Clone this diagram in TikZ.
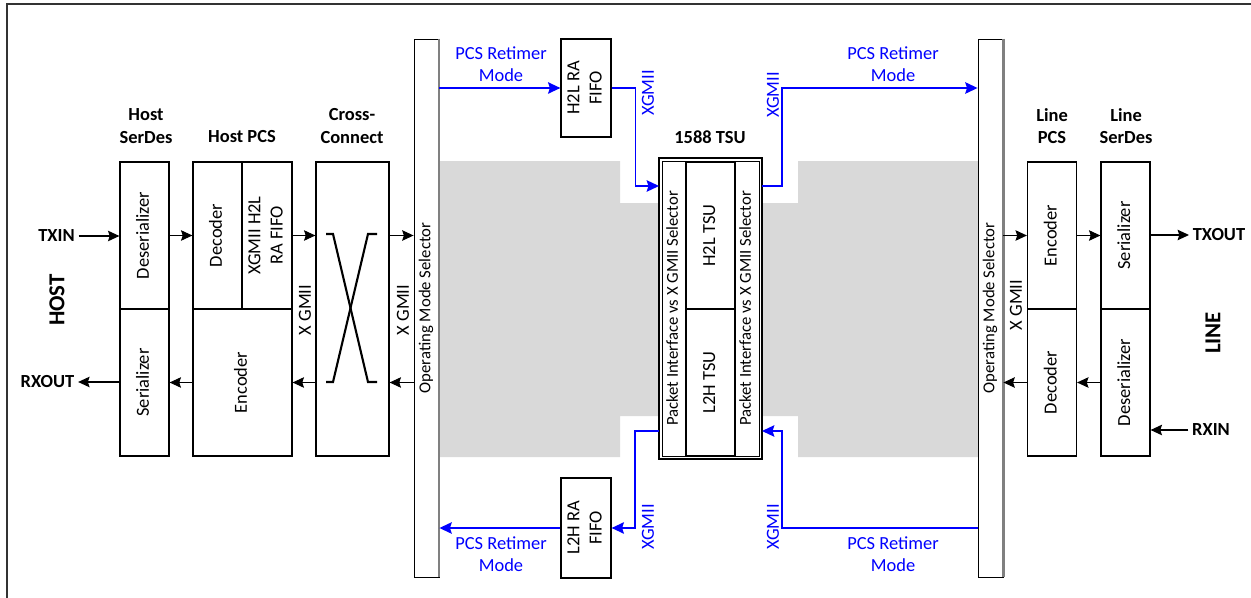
\documentclass[tikz,border=0pt]{standalone}
\usepackage{fontspec}
\setmainfont{Carlito}
\usepackage{graphicx}
\usetikzlibrary{arrows.meta, calc}
\definecolor{bggray}{RGB}{217,217,217}
\definecolor{xblue}{RGB}{0,0,255}
\tikzstyle{arrow} = [line width=0.6pt, -{Stealth[length=6.5pt,width=6pt,inset=1pt]}]
\newcommand{\vtext}[1]{\rotatebox{90}{\begin{tabular}{@{}c@{}}#1\end{tabular}}}

\begin{document}
\begin{tikzpicture}[
  x=0.02cm, y=-0.02cm,
  every node/.style={font=\fontsize{10.5}{12.8}\selectfont},
  block/.style={draw=black, fill=white, line width=0.7pt, inner sep=0pt},
  half/.style={block, minimum width=0.98cm, minimum height=2.94cm},
  sel/.style={draw=black, fill=white, line width=0.5pt, inner sep=0pt, font=\fontsize{9.5}{11}\selectfont},
  title/.style={font=\fontsize{10.5}{12.8}\selectfont\bfseries, align=center},
  side/.style={font=\fontsize{13}{15}\selectfont\bfseries, rotate=90},
  pin/.style={font=\fontsize{10.5}{12.8}\selectfont\bfseries, inner sep=2pt},
  barrow/.style={xblue, line width=1pt, -{Stealth[length=7pt,width=6.5pt,inset=1pt]}},
  bluetxt/.style={text=xblue, align=center}
]
\useasboundingbox (0,0) rectangle (1251,598);

% frame and shaded area
\draw[line width=0.6pt, black!80] (1251,4) -- (7,4) -- (7,598);
\fill[bggray] (439,161) -- (620,161) -- (620,203) -- (798,203) -- (798,161) -- (978,161)
  -- (978,457) -- (798,457) -- (798,416) -- (620,416) -- (620,457) -- (439,457) -- cycle;

% Host side
\node[side] (host) at (57,300) {HOST};
\node[title] (thsd) at (146,126) {Host\\SerDes};
\node[title] (thpcs) at (242,137) {Host PCS};
\node[title] (tcc) at (352,126) {Cross-\\Connect};
\node[half] (hdes) at (144.5,235.5) {\vtext{Deserializer}};
\node[half] (hser) at (144.5,382.5) {\vtext{Serializer}};
\node[half] (hdec) at (217.5,235.5) {\vtext{Decoder}};
\node[half, minimum width=1cm] (hfifo) at (267,235.5) {\vtext{XGMII H2L\\RA FIFO}};
\node[block, minimum width=1.98cm, minimum height=2.94cm] (henc) at (242.5,382.5) {\vtext{Encoder}};
\node[block, minimum width=1.46cm, minimum height=5.88cm] (xc) at (352.5,309) {};
\draw[line width=1.2pt] (326,234) -- (333,234) -- (368,382) -- (377,382);
\draw[line width=1.2pt] (377,234) -- (368,234) -- (333,382) -- (326,382);

% Operating mode selectors
\node[sel, minimum width=0.5cm, minimum height=10.76cm] (omsl) at (426.5,308) {\vtext{Operating Mode Selector}};
\draw[gray, line width=1.2pt] (omsl.north east) -- (omsl.south east);
\node[sel, minimum width=0.5cm, minimum height=10.76cm] (omsr) at (990.5,308) {\vtext{Operating Mode Selector}};
\draw[gray, line width=1.2pt] (omsr.north east) -- (omsr.south east);

% RA FIFOs
\node[block, minimum width=1cm, minimum height=1.96cm] (h2lf) at (586,88) {\vtext{H2L RA\\FIFO}};
\node[block, minimum width=1cm, minimum height=2cm] (l2hf) at (586,528) {\vtext{L2H RA\\FIFO}};

% 1588 TSU
\node[title] (ttsu) at (710,137) {1588 TSU};
\node[block, line width=1.3pt, minimum width=2.06cm, minimum height=6.02cm] (tsu) at (710.5,308.5) {};
\node[sel, minimum width=1.94cm, minimum height=5.9cm] (tsuin) at (710.5,308.5) {};
\node[sel, minimum width=0.48cm, minimum height=5.9cm] (tpl) at (674,308.5) {\vtext{Packet Interface vs X GMII Selector}};
\node[sel, minimum width=0.48cm, minimum height=5.9cm] (tpr) at (747,308.5) {\vtext{Packet Interface vs X GMII Selector}};
\node[half, line width=1pt] (h2l) at (710.5,235.5) {\vtext{H2L TSU}};
\node[half, line width=1pt] (l2h) at (710.5,382.5) {\vtext{L2H TSU}};
\coordinate (tsuLi) at (659,186);
\coordinate (tsuRo) at (762,186);
\coordinate (tsuRi) at (762,431);
\coordinate (tsuLo) at (659,431);

% Line side
\node[title] (tlpcs) at (1052,126) {Line\\PCS};
\node[title] (tlsd) at (1126,126) {Line\\SerDes};
\node[half] (lenc) at (1052,235.5) {\vtext{Encoder}};
\node[half] (ldec) at (1052,382.5) {\vtext{Decoder}};
\node[half] (lser) at (1125.5,235.5) {\vtext{Serializer}};
\node[half] (ldes) at (1125.5,382.5) {\vtext{Deserializer}};
\node[side] (line) at (1213,333) {LINE};

% pins
\node[pin] (txin) at (56.5,236) {TXIN};
\node[pin] (rxout) at (47.5,382) {RXOUT};
\node[pin] (txout) at (1219,235) {TXOUT};
\node[pin] (rxin) at (1211,430) {RXIN};

% black arrows
\draw[arrow] (txin.east) -- (hdes.west |- txin);
\draw[arrow] (hser.west |- rxout) -- (rxout.east);
\draw[arrow] (hdes) -- (hdec);
\draw[arrow] (hfifo.east) -- (xc.west |- hfifo.east);
\draw[arrow] (xc.east |- hfifo.east) -- (omsl.west |- hfifo.east);
\draw[arrow] (henc.west) -- (hser.east |- henc.west);
\draw[arrow] (xc.west |- henc.east) -- (henc.east);
\draw[arrow] (omsl.west |- henc.east) -- (xc.east |- henc.east);
\draw[arrow] (omsr.east |- lenc.west) -- (lenc.west);
\draw[arrow] (lenc) -- (lser);
\draw[arrow] (lser.east |- txout) -- (txout.west);
\draw[arrow] (ldes) -- (ldec);
\draw[arrow] (ldec.west) -- (omsr.east |- ldec.west);
\draw[arrow] (rxin.west) -- (ldes.east |- rxin);

% X GMII labels
\node[rotate=90] (xg1) at (305,310) {X GMII};
\node[rotate=90] (xg2) at (403,310) {X GMII};
\node[rotate=90] (xg3) at (1016,305) {X GMII};

% PCS retimer paths
\draw[barrow] (omsl.east |- h2lf) -- (h2lf);
\draw[barrow] (h2lf.east) -- ++(24,0) |- (tsuLi);
\draw[barrow] (tsuRo) -- ++(20,0) |- (omsr.west |- h2lf);
\draw[barrow] (omsr.west |- l2hf) -| ($(tsuRi)+(20,0)$) -- (tsuRi);
\draw[barrow] (tsuLo) -- ++(-24,0) |- (l2hf.east);
\draw[barrow] (l2hf.west) -- (omsl.east |- l2hf);

\node[bluetxt] (pcs1) at (501,64) {PCS Retimer\\Mode};
\node[bluetxt] (pcs2) at (893,64) {PCS Retimer\\Mode};
\node[bluetxt] (pcs3) at (501,554) {PCS Retimer\\Mode};
\node[bluetxt] (pcs4) at (893,554) {PCS Retimer\\Mode};
\node[bluetxt, rotate=90] (xb1) at (648,93) {XGMII};
\node[bluetxt, rotate=90] (xb2) at (773,95) {XGMII};
\node[bluetxt, rotate=90] (xb3) at (648,527) {XGMII};
\node[bluetxt, rotate=90] (xb4) at (773,527) {XGMII};

\end{tikzpicture}
\end{document}
